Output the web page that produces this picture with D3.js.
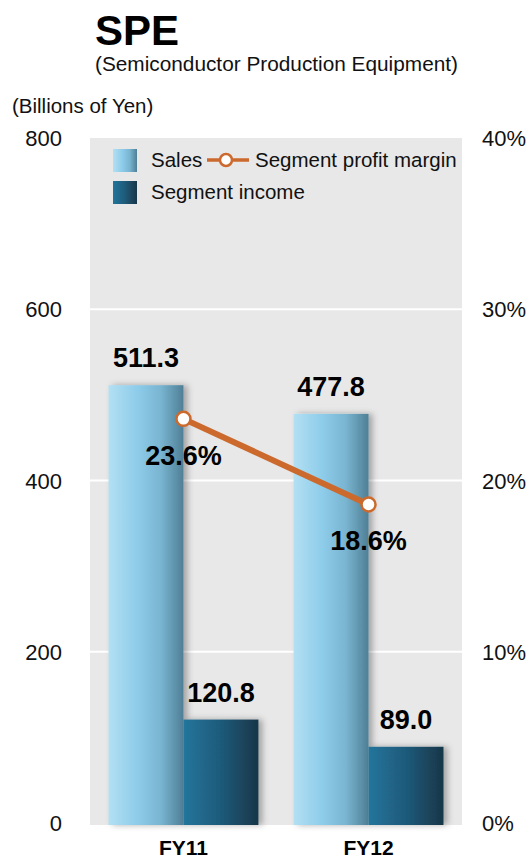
<!DOCTYPE html>
<html>
<head>
<meta charset="utf-8">
<script src="https://cdn.jsdelivr.net/npm/d3@7/dist/d3.min.js"></script>
<style>
  html, body { margin: 0; padding: 0; background: #fff; }
  svg { display: block; font-family: "Liberation Sans", Arial, sans-serif; }
</style>
</head>
<body>
<svg id="chart" width="532" height="859"></svg>
<script>
// Fiscal years and series (billions of yen / percent)
const categories = ["FY11", "FY12"];
const sales = [511.3, 477.8];
const segmentIncome = [120.8, 89.0];
const profitMargin = [23.6, 18.6];
const leftTicks = [0, 200, 400, 600, 800];
const rightTicks = [0, 10, 20, 30, 40];

const svg = d3.select("#chart");
const plot = { left: 90, right: 462, top: 138, bottom: 823 };

const y = d3.scaleLinear().domain([0, 800]).range([plot.bottom, plot.top]);
const yPct = d3.scaleLinear().domain([0, 40]).range([plot.bottom, plot.top]);
const x = d3.scaleBand().domain(categories).range([plot.left, plot.right])
  .paddingInner(0.19).paddingOuter(0.1);
const xSub = d3.scaleBand().domain(["sales", "income"]).range([0, x.bandwidth()]);

// Gradients and bar shadow
const defs = svg.append("defs");
function hGrad(id, stops) {
  const g = defs.append("linearGradient").attr("id", id)
    .attr("x1", "0%").attr("x2", "100%").attr("y1", "0%").attr("y2", "0%");
  stops.forEach(([o, c]) => g.append("stop").attr("offset", o).attr("stop-color", c));
}
hGrad("gSales", [["0%", "#b3e0f3"], ["40%", "#8ccbe9"], ["70%", "#79b4d0"], ["100%", "#4f7f96"]]);
hGrad("gIncome", [["0%", "#21759c"], ["50%", "#1f5a7a"], ["100%", "#183648"]]);
const shadow = defs.append("filter").attr("id", "shadow")
  .attr("x", "-20%").attr("y", "-20%").attr("width", "150%").attr("height", "140%");
shadow.append("feDropShadow").attr("dx", 4).attr("dy", 0).attr("stdDeviation", 3)
  .attr("flood-color", "#000").attr("flood-opacity", 0.3);

// Titles
svg.append("text").attr("x", 95).attr("y", 45).attr("font-size", 42)
  .attr("font-weight", "bold").attr("fill", "#000").text("SPE");
svg.append("text").attr("x", 95).attr("y", 71).attr("font-size", 20.8)
  .attr("fill", "#111").text("(Semiconductor Production Equipment)");
svg.append("text").attr("x", 12).attr("y", 113).attr("font-size", 20.5)
  .attr("fill", "#111").text("(Billions of Yen)");

// Plot background
svg.append("rect").attr("x", plot.left).attr("y", plot.top)
  .attr("width", plot.right - plot.left).attr("height", plot.bottom - plot.top + 2)
  .attr("fill", "#e8e8e8");

// Gridlines
svg.append("g").selectAll("line").data(leftTicks.filter(d => d > 0 && d < 800)).join("line")
  .attr("x1", plot.left).attr("x2", plot.right)
  .attr("y1", d => y(d)).attr("y2", d => y(d))
  .attr("stroke", "#fff").attr("stroke-width", 2);

// Axis tick labels
svg.append("g").selectAll("text").data(leftTicks).join("text")
  .attr("x", 62).attr("y", d => y(d) + 8).attr("text-anchor", "end")
  .attr("font-size", 22).attr("fill", "#111").text(d => d);
svg.append("g").selectAll("text").data(rightTicks).join("text")
  .attr("x", 482).attr("y", d => yPct(d) + 8).attr("text-anchor", "start")
  .attr("font-size", 22).attr("fill", "#111").text(d => d + "%");

// Bars
const rows = categories.map((c, i) => ({ c, sales: sales[i], income: segmentIncome[i], margin: profitMargin[i] }));
const groups = svg.append("g").selectAll("g").data(rows).join("g")
  .attr("transform", d => `translate(${x(d.c)},0)`);
groups.append("rect").attr("x", xSub("sales")).attr("width", xSub.bandwidth())
  .attr("y", d => y(d.sales)).attr("height", d => y(0) - y(d.sales) + 2)
  .attr("fill", "url(#gSales)").attr("filter", "url(#shadow)");
groups.append("rect").attr("x", xSub("income")).attr("width", xSub.bandwidth())
  .attr("y", d => y(d.income)).attr("height", d => y(0) - y(d.income) + 2)
  .attr("fill", "url(#gIncome)").attr("filter", "url(#shadow)");

// Bar value labels
groups.append("text").attr("x", xSub("sales") + xSub.bandwidth() / 2)
  .attr("y", d => y(d.sales) - 18).attr("text-anchor", "middle")
  .attr("font-size", 27).attr("font-weight", "bold").attr("fill", "#000")
  .text(d => d.sales.toFixed(1));
groups.append("text").attr("x", xSub("income") + xSub.bandwidth() / 2)
  .attr("y", d => y(d.income) - 18).attr("text-anchor", "middle")
  .attr("font-size", 27).attr("font-weight", "bold").attr("fill", "#000")
  .text(d => d.income.toFixed(1));

// Category labels
svg.append("g").selectAll("text").data(categories).join("text")
  .attr("x", d => x(d) + x.bandwidth() / 2).attr("y", 855).attr("text-anchor", "middle")
  .attr("font-size", 21).attr("font-weight", "bold").attr("fill", "#000").text(d => d);

// Profit margin line
const cx = d => x(d.c) + x.bandwidth() / 2;
const orange = "#cc6a2e";
svg.append("path").datum(rows)
  .attr("d", d3.line().x(cx).y(d => yPct(d.margin)))
  .attr("fill", "none").attr("stroke", orange).attr("stroke-width", 6);
svg.append("g").selectAll("circle").data(rows).join("circle")
  .attr("cx", cx).attr("cy", d => yPct(d.margin)).attr("r", 7)
  .attr("fill", "#fff").attr("stroke", orange).attr("stroke-width", 2.5);
svg.append("g").selectAll("text").data(rows).join("text")
  .attr("x", cx).attr("y", d => yPct(d.margin) + 46).attr("text-anchor", "middle")
  .attr("font-size", 27).attr("font-weight", "bold").attr("fill", "#000")
  .text(d => d.margin.toFixed(1) + "%");

// Legend
const legend = svg.append("g");
legend.append("rect").attr("x", 113).attr("y", 149).attr("width", 24).attr("height", 23)
  .attr("fill", "url(#gSales)");
legend.append("text").attr("x", 151).attr("y", 167).attr("font-size", 20.5)
  .attr("fill", "#111").text("Sales");
legend.append("line").attr("x1", 207).attr("x2", 249).attr("y1", 160).attr("y2", 160)
  .attr("stroke", orange).attr("stroke-width", 3.5);
legend.append("circle").attr("cx", 226).attr("cy", 160).attr("r", 6)
  .attr("fill", "#fff").attr("stroke", orange).attr("stroke-width", 2.5);
legend.append("text").attr("x", 255).attr("y", 167).attr("font-size", 20.5)
  .attr("fill", "#111").text("Segment profit margin");
legend.append("rect").attr("x", 113).attr("y", 181).attr("width", 24).attr("height", 23)
  .attr("fill", "url(#gIncome)");
legend.append("text").attr("x", 151).attr("y", 199).attr("font-size", 20.5)
  .attr("fill", "#111").text("Segment income");
</script>
</body>
</html>
